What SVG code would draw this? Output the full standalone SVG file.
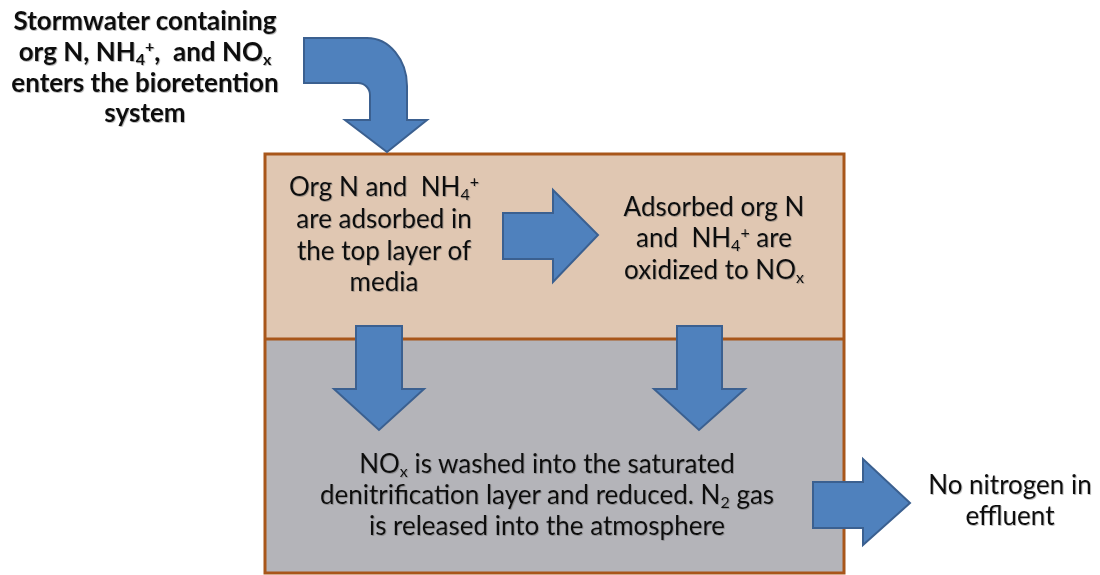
<svg xmlns="http://www.w3.org/2000/svg" width="1100" height="575" viewBox="0 0 1100 575">
  <style>
    .t { font-family: Lato, "Liberation Sans", sans-serif; font-size: 26px; fill: #111; text-anchor: middle; white-space: pre; filter: url(#shadow); }
    .b { font-weight: bold; }
    .arrow { fill: #4F81BD; stroke: #3B6090; stroke-width: 2; stroke-linejoin: miter; }
    .sm { font-size: 16px; }
  </style>
  <defs>
    <filter id="shadow" x="-5%" y="-20%" width="110%" height="140%">
      <feDropShadow dx="0.8" dy="0.8" stdDeviation="0.5" flood-color="#555" flood-opacity="0.5"/>
    </filter>
  </defs>
  <rect width="1100" height="575" fill="#ffffff"/>

  <g id="system-box">
    <rect id="top-layer" x="265" y="154" width="579" height="185" fill="#E0C7B2"/>
    <rect id="bottom-layer" x="265" y="339" width="579" height="234" fill="#B4B4B9"/>
    <rect x="265" y="154" width="579" height="419" fill="none" stroke="#A8561A" stroke-width="3"/>
    <line x1="265" y1="339" x2="844" y2="339" stroke="#A8561A" stroke-width="3"/>
  </g>

  <g id="inflow-label">
    <text class="t b" x="145" y="30">Stormwater containing</text>
    <text class="t b" x="145" y="61">org N, NH<tspan class="sm" baseline-shift="-4">4</tspan><tspan class="sm" baseline-shift="9">+</tspan>,  and NO<tspan class="sm" baseline-shift="-4">x</tspan></text>
    <text class="t b" x="145" y="92">enters the bioretention</text>
    <text class="t b" x="145" y="122">system</text>
  </g>

  <g id="adsorption">
    <text class="t" x="384" y="196">Org N and  NH<tspan class="sm" baseline-shift="-4">4</tspan><tspan class="sm" baseline-shift="9">+</tspan></text>
    <text class="t" x="384" y="228">are adsorbed in</text>
    <text class="t" x="384" y="260">the top layer of</text>
    <text class="t" x="384" y="291">media</text>
  </g>

  <g id="oxidation">
    <text class="t" x="714" y="216">Adsorbed org N</text>
    <text class="t" x="714" y="247">and  NH<tspan class="sm" baseline-shift="-4">4</tspan><tspan class="sm" baseline-shift="9">+</tspan> are</text>
    <text class="t" x="714" y="279">oxidized to NO<tspan class="sm" baseline-shift="-4">x</tspan></text>
  </g>

  <g id="denitrification">
    <text class="t" x="547" y="473">NO<tspan class="sm" baseline-shift="-4">x</tspan> is washed into the saturated</text>
    <text class="t" x="547" y="504">denitrification layer and reduced. N<tspan class="sm" baseline-shift="-4">2</tspan> gas</text>
    <text class="t" x="547" y="535">is released into the atmosphere</text>
  </g>

  <g id="effluent">
    <text class="t" x="1010" y="494">No nitrogen in</text>
    <text class="t" x="1010" y="525">effluent</text>
  </g>

  <g id="connectors">
    <path class="arrow" d="M304,38 L367,38 A40,48 0 0 1 407,86 L407,120 L427,120 L387,152 L345,120 L370,120 L370,95 A12,12 0 0 0 358,83 L304,83 Z"/>
    <polygon class="arrow" points="503,213 553,213 553,190 598,235 553,282 553,259 503,259"/>
    <polygon class="arrow" points="356,326 402,326 402,389 424,389 379,430 334,389 356,389"/>
    <polygon class="arrow" points="677,326 722,326 722,389 745,389 699,430 654,389 677,389"/>
    <polygon class="arrow" points="813,482 863,482 863,459 910,503 863,545 863,528 813,528"/>
  </g>
</svg>
